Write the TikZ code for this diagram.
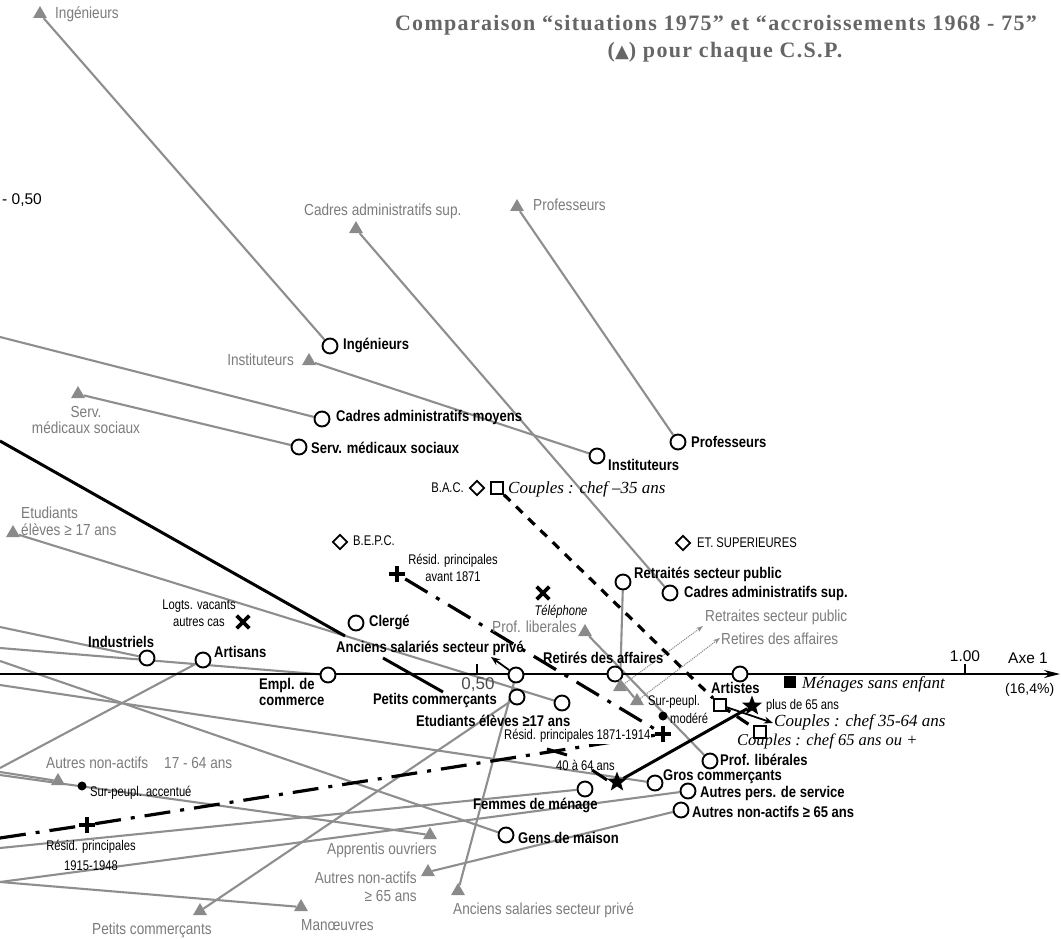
\documentclass[tikz,border=0pt]{standalone}
\usepackage{fontspec}
\setmainfont{Liberation Sans}
\newfontfamily\condb[FakeStretch=0.84]{Liberation Sans}
\newfontfamily\condg[FakeStretch=0.85]{Liberation Sans}
\newfontfamily\condt[FakeStretch=0.8]{Liberation Sans}
\newfontfamily\serifit{Liberation Serif}
\newfontfamily\titlef[LetterSpace=6]{Liberation Serif}
\newfontfamily\dejavu{DejaVu Sans}
\usetikzlibrary{arrows.meta,shapes.geometric,shapes.misc}
\pgfdeclarelayer{bg}
\pgfdeclarelayer{lines}
\pgfsetlayers{bg,lines,main}
\definecolor{lgray}{HTML}{8E8E8E}
\definecolor{tgray}{HTML}{8A8A8A}
\definecolor{txtgray}{HTML}{7C7C7C}
\definecolor{titlegray}{HTML}{666666}
\tikzset{
  gl/.style={draw=lgray, line width=2.1pt},
  circ/.style={circle, draw=black, fill=white, line width=1.9pt, minimum size=15pt, inner sep=0pt},
  tri/.style={regular polygon, regular polygon sides=3, fill=tgray, draw=none, minimum size=16pt, inner sep=0pt},
  diam/.style={diamond, draw=black, fill=white, line width=1.8pt, minimum size=15pt, inner sep=0pt},
  sqr/.style={rectangle, draw=black, fill=white, line width=1.8pt, minimum size=12pt, inner sep=0pt},
  fsq/.style={rectangle, fill=black, minimum size=12pt, inner sep=0pt},
  starn/.style={star, star points=5, star point ratio=2.4, fill=black, minimum size=21pt, inner sep=0pt},
  plusn/.style={minimum size=16pt, inner sep=0pt, path picture={\draw[line width=4.2pt] (path picture bounding box.north) -- (path picture bounding box.south) (path picture bounding box.west) -- (path picture bounding box.east);}},
  xmark/.style={cross out, draw=black, line width=3.6pt, minimum size=9pt, inner sep=0pt},
  dotn/.style={circle, fill=black, minimum size=9pt, inner sep=0pt},
  lb/.style={font=\condb\bfseries\fontsize{15.5}{15.5}\selectfont, text=black, inner sep=0pt},
  lg/.style={font=\condg\fontsize{16}{17}\selectfont, text=txtgray, inner sep=0pt},
  ls/.style={font=\condt\fontsize{14}{17}\selectfont, text=black, inner sep=0pt},
  li/.style={font=\serifit\itshape\fontsize{17}{19}\selectfont, text=black, inner sep=0pt},
  num/.style={font=\fontsize{15.5}{17}\selectfont, text=black, inner sep=0pt},
  cd/.style={draw=black, line width=3.2pt, dash pattern=on 9pt off 8pt},
  dd/.style={draw=black, line width=3.2pt, dash pattern=on 26pt off 10pt on 4pt off 10pt},
  dotarr/.style={draw=lgray, line width=1.1pt, densely dotted, -{Stealth[length=7pt,width=5pt]}},
  blarr/.style={draw=black, line width=1.8pt, -{Stealth[length=9pt,width=7pt]}}
}
\begin{document}
\begin{tikzpicture}[x=1pt,y=-1pt]
\useasboundingbox (0,0) rectangle (1061,939);
\begin{pgfonlayer}{bg}
\fill[white] (0,0) rectangle (1061,939);
\end{pgfonlayer}

% ---------- title ----------
\node[font=\titlef\bfseries\fontsize{22}{26}\selectfont, text=titlegray, inner sep=0pt] (title1) at (716,25) {Comparaison “situations 1975” et “accroissements 1968 - 75”};
\node[font=\titlef\bfseries\fontsize{22}{26}\selectfont, text=titlegray, inner sep=0pt] (title2) at (725,52) {({\dejavu\fontsize{18}{18}\selectfont ▲}) pour chaque C.S.P.};

% ---------- axis ----------
\coordinate (ax0) at (0,674);
\coordinate (ax1) at (1060,674);
\coordinate (tk1) at (477,674);
\coordinate (tk1b) at (477,664);
\coordinate (tk2) at (965,674);
\coordinate (tk2b) at (965,664);
\node[num, anchor=west] (m050) at (2,200) {- 0,50};
\node[num, text=black!70, font=\fontsize{17}{17}\selectfont] (p050) at (478,685) {0,50};
\node[num] (p100) at (965,656) {1.00};
\node[num, anchor=west] (axe) at (1008,658) {Axe 1};
\node[num, anchor=west, font=\fontsize{14}{16}\selectfont] (pct) at (1005,690) {(16,4\%)};

% ---------- circles (situations 1975) ----------
\node[circ] (cIng) at (330,346) {};
\node[circ] (cCam) at (322,419) {};
\node[circ] (cSms) at (299,447) {};
\node[circ] (cIns) at (597,456) {};
\node[circ] (cPro) at (678,442) {};
\node[circ] (cCas) at (670,593) {};
\node[circ] (cRsp) at (623,582) {};
\node[circ] (cRda) at (615,674) {};
\node[circ] (cClg) at (356,623) {};
\node[circ] (cAsp) at (516,675) {};
\node[circ] (cPco) at (517,697) {};
\node[circ] (cEtu) at (562,703) {};
\node[circ] (cInd) at (147,658) {};
\node[circ] (cArt) at (203,660) {};
\node[circ] (cEmp) at (328,675) {};
\node[circ] (cAts) at (740,674) {};
\node[circ] (cPlb) at (710,761) {};
\node[circ] (cGro) at (655,783) {};
\node[circ] (cApe) at (688,791) {};
\node[circ] (cAna) at (681,810) {};
\node[circ] (cFem) at (585,789) {};
\node[circ] (cGdm) at (506,835) {};

% ---------- triangles (accroissements) ----------
\node[tri] (tIng) at (40,14) {};
\node[tri] (tCas) at (356,229) {};
\node[tri] (tPro) at (517,207) {};
\node[tri] (tIns) at (309,361) {};
\node[tri] (tSms) at (78,394) {};
\node[tri] (tEtu) at (13,533) {};
\node[tri] (tPlb) at (585,632) {};
\node[tri] (tRsp) at (620,687) {};
\node[tri] (tRda) at (637,701) {};
\node[tri] (tAno) at (58,781) {};
\node[tri] (tApp) at (430,835) {};
\node[tri] (tAna) at (428,872) {};
\node[tri] (tAsp) at (458,891) {};
\node[tri] (tPco) at (200,911) {};
\node[tri] (tMan) at (301,907) {};

% ---------- other symbols ----------
\node[diam] (dBac) at (477,488) {};
\node[diam] (dEts) at (683,543) {};
\node[diam] (dBep) at (340,542) {};
\node[sqr] (sC35) at (497,488) {};
\node[sqr] (sC3564) at (720,705) {};
\node[sqr] (sC65) at (760,732) {};
\node[fsq] (sMen) at (790,682) {};
\node[starn] (st4064) at (617,782) {};
\node[starn] (st65) at (752,706) {};
\node[plusn] (xAv) at (397,574) {};
\node[plusn] (x1871) at (663,734) {};
\node[plusn] (x1915) at (87,825) {};
\node[xmark] (xTel) at (543,593) {};
\node[xmark] (xLog) at (243,622) {};
\node[dotn] (dSpA) at (82,786) {};
\node[dotn] (dSpM) at (663,716) {};

% ---------- free ends ----------
\coordinate (eCam) at (0,337);
\coordinate (eInd) at (0,627);
\coordinate (eEmp) at (0,648);
\coordinate (eArt) at (0,768);
\coordinate (eAno) at (0,772);
\coordinate (eApp) at (0,775);
\coordinate (eGdm) at (0,661);
\coordinate (eGro) at (0,685);
\coordinate (eFem) at (0,848);
\coordinate (eApe) at (0,882);
\coordinate (eRes) at (0,838);
\coordinate (k1) at (0,441);
\coordinate (k2) at (345,636);
\coordinate (k3) at (383,658);
\coordinate (k4) at (443,692);
\coordinate (h1) at (547,749);
\coordinate (h2) at (567,755);
\coordinate (h3) at (592,770);
\coordinate (h4) at (607,780);
\coordinate (aAsp) at (491,657);
\coordinate (aC3564) at (773,723);
\coordinate (aRsp) at (703,626);
\coordinate (aRda) at (720,638);

% ---------- connectors ----------
\begin{pgfonlayer}{lines}
\draw[gl] (tIng) -- (cIng);
\draw[gl] (eCam) -- (cCam);
\draw[gl] (tSms) -- (cSms);
\draw[gl] (tIns) -- (cIns);
\draw[gl] (tPro) -- (cPro);
\draw[gl] (tCas) -- (cCas);
\draw[gl] (cRsp) -- (tRsp);
\draw[gl] (cRda) -- (tRda);
\draw[gl] (tPlb) -- (cPlb);
\draw[gl] (tEtu) -- (cEtu);
\draw[gl] (eInd) -- (cInd);
\draw[gl] (eEmp) -- (cEmp);
\draw[gl] (eArt) -- (cArt);
\draw[gl] (eAno) -- (tAno);
\draw[gl] (eApp) -- (tApp);
\draw[gl] (eGdm) -- (cGdm);
\draw[gl] (eGro) -- (cGro);
\draw[gl] (eFem) -- (cFem);
\draw[gl] (eApe) -- (cApe);
\draw[gl] (eApe) -- (tMan);
\draw[gl] (tPco) -- (cPco);
\draw[gl] (tAsp) -- (cAsp);
\draw[gl] (tAna) -- (cAna);
\draw[dotarr] (tRsp) -- (aRsp);
\draw[dotarr] (tRda) -- (aRda);
% axis
\draw[line width=1.6pt, -{Stealth[length=16pt,width=8pt]}] (ax0) -- (ax1);
\draw[line width=2pt] (tk1) -- (tk1b);
\draw[line width=2pt] (tk2) -- (tk2b);
% black trajectories
\draw[line width=3pt] (k1) -- (k2);
\draw[line width=3pt] (k3) -- (k4);
\draw[dd] (xAv) -- (x1871);
\draw[dd] (eRes) -- (x1915);
\draw[dd] (x1915) -- (x1871);
\draw[cd] (sC35) -- (sC3564);
\draw[dd, dash pattern=on 4pt off 8pt on 14pt off 8pt] (sC3564) -- (sC65);
\draw[line width=3pt] (st4064) -- (st65);
\draw[line width=3pt] (h1) -- (h2);
\draw[line width=3pt] (h3) -- (h4);
\draw[blarr] (cAsp) -- (aAsp);
\draw[blarr] (sC3564) -- (aC3564);
\end{pgfonlayer}

% ---------- black bold labels ----------
\node[lb, anchor=west] (lIng) at (343,345) {Ingénieurs};
\node[lb, anchor=west] (lCam) at (336,417) {Cadres administratifs moyens};
\node[lb, anchor=west] (lSms) at (311,448) {Serv. médicaux sociaux};
\node[lb, anchor=west] (lIns) at (608,465) {Instituteurs};
\node[lb, anchor=west] (lPro) at (691,442) {Professeurs};
\node[lb, anchor=west] (lCas) at (684,593) {Cadres administratifs sup.};
\node[lb, anchor=west] (lRsp) at (634,574) {Retraités secteur public};
\node[lb, anchor=west] (lRda) at (543,658) {Retirés des affaires};
\node[lb, anchor=west] (lClg) at (369,622) {Clergé};
\node[lb, anchor=west] (lAsp) at (336,648) {Anciens salariés secteur privé};
\node[lb, anchor=west] (lInd) at (88,642) {Industriels};
\node[lb, anchor=west] (lArt) at (214,652) {Artisans};
\node[lb, anchor=west, align=left] (lEmp) at (259,692) {Empl. de\\commerce};
\node[lb, anchor=east] (lPco) at (497,700) {Petits commerçants};
\node[lb, anchor=west] (lEtu) at (416,721) {Etudiants élèves ≥17 ans};
\node[lb, anchor=west] (lAts) at (711,688) {Artistes};
\node[lb, anchor=west] (lPlb) at (720,760) {Prof. libérales};
\node[lb, anchor=west] (lGro) at (663,777) {Gros commerçants};
\node[lb, anchor=west] (lApe) at (700,793) {Autres pers. de service};
\node[lb, anchor=west] (lAna) at (692,812) {Autres non-actifs ≥ 65 ans};
\node[lb, anchor=west] (lFem) at (473,805) {Femmes de ménage};
\node[lb, anchor=west] (lGdm) at (518,838) {Gens de maison};

% ---------- grey labels ----------
\node[lg, anchor=west] (gIng) at (55,14) {Ingénieurs};
\node[lg, anchor=west] (gCas) at (304,211) {Cadres administratifs sup.};
\node[lg, anchor=west] (gPro) at (533,205) {Professeurs};
\node[lg, anchor=east] (gIns) at (294,360) {Instituteurs};
\node[lg, align=center, font=\condg\fontsize{16}{16}\selectfont] (gSms) at (86,420) {Serv.\\médicaux sociaux};
\node[lg, anchor=west, align=left] (gEtu) at (21,521) {Etudiants\\élèves ≥ 17 ans};
\node[lg, anchor=west] (gPlb) at (492,627) {Prof. liberales};
\node[lg, anchor=west] (gRsp) at (705,617) {Retraites secteur public};
\node[lg, anchor=west] (gRda) at (721,639) {Retires des affaires};
\node[lg, anchor=west] (gAno) at (46,763) {Autres non-actifs\quad 17 - 64 ans};
\node[lg, anchor=west] (gApp) at (327,850) {Apprentis ouvriers};
\node[lg, anchor=east, align=right, font=\condg\fontsize{16}{18}\selectfont] (gAna) at (417,887) {Autres non-actifs\\≥ 65 ans};
\node[lg, anchor=west] (gAsp) at (453,910) {Anciens salaries secteur privé};
\node[lg, anchor=west] (gPco) at (92,930) {Petits commerçants};
\node[lg, anchor=west] (gMan) at (301,925) {Manœuvres};

% ---------- supplementary labels ----------
\node[ls, anchor=east] (lBac) at (464,488) {B.A.C.};
\node[ls, anchor=west] (lEts) at (697,543) {ET. SUPERIEURES};
\node[ls, anchor=west] (lBep) at (353,541) {B.E.P.C.};
\node[ls, align=center] (lAv) at (453,568) {Résid. principales\\avant 1871};
\node[ls, align=center] (lLog) at (199,613) {Logts. vacants\\autres cas};
\node[ls, font=\condt\itshape\fontsize{14}{15}\selectfont] (lTel) at (561,612) {Téléphone};
\node[ls, anchor=west] (lSpM1) at (648,702) {Sur-peupl.};
\node[ls, anchor=west] (lSpM2) at (670,718) {modéré};
\node[ls, anchor=west, fill=white, inner sep=1pt] (l1871) at (503,736) {Résid. principales 1871-1914};
\node[ls, anchor=west] (l4064) at (556,765) {40 à 64 ans};
\node[ls, anchor=west] (l65) at (766,706) {plus de 65 ans};
\node[ls, anchor=west] (lSpA) at (90,793) {Sur-peupl. accentué};
\node[ls, align=center, font=\condt\fontsize{14}{20}\selectfont] (l1915) at (91,855) {Résid. principales\\1915-1948};

% ---------- italic labels ----------
\node[li, anchor=west] (iC35) at (508,489) {Couples : chef –35 ans};
\node[li, anchor=west] (iMen) at (802,684) {Ménages sans enfant};
\node[li, anchor=west] (iC3564) at (774,722) {Couples : chef 35-64 ans};
\node[li, anchor=west, font=\serifit\itshape\fontsize{16.5}{18}\selectfont] (iC65) at (737,741) {Couples : chef 65 ans ou +};
\end{tikzpicture}
\end{document}
